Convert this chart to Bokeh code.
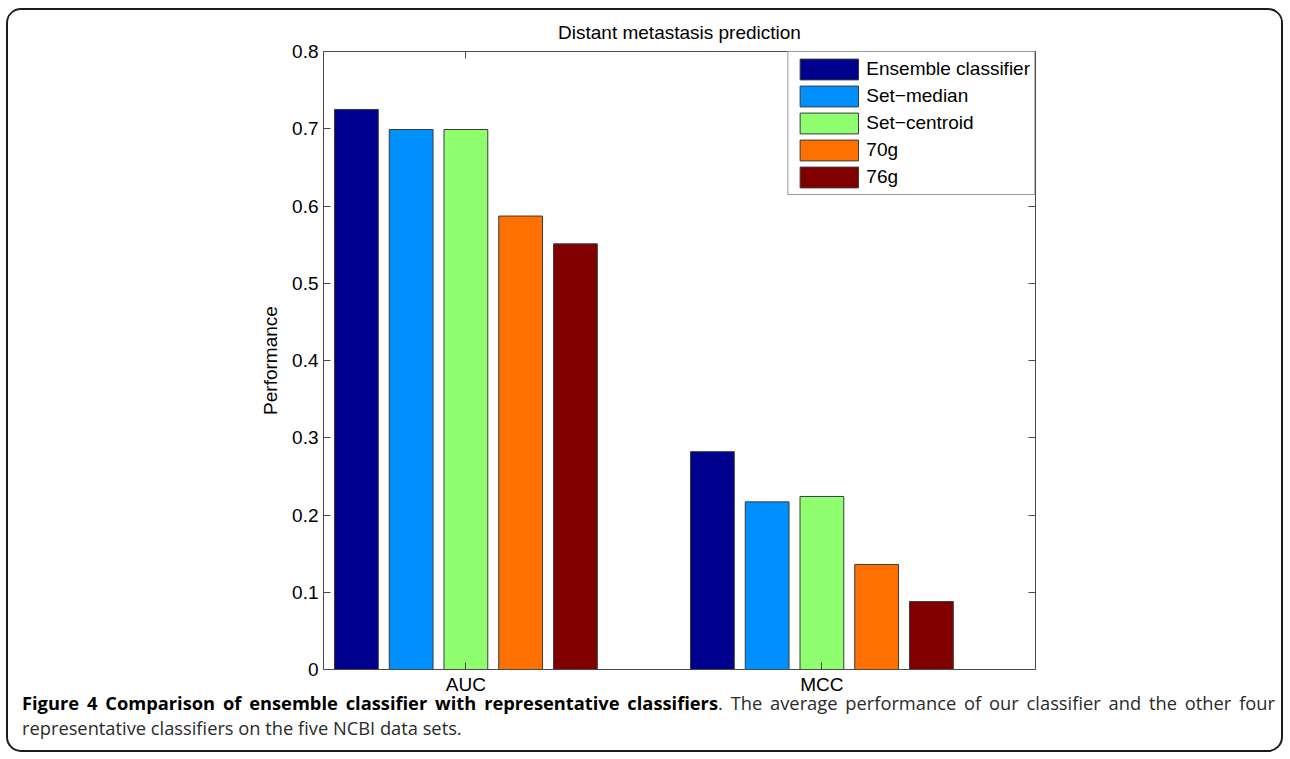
import numpy as np
from bokeh.plotting import figure
from bokeh.models import (ColumnDataSource, Range1d, LinearAxis, FixedTicker, Legend,
                          LegendItem, Div, CustomJSTickFormatter)
from bokeh.layouts import column
from bokeh.embed import file_html
from bokeh.resources import INLINE

# ---------------- data ----------------
metrics = ["AUC", "MCC"]
metric_pos = [1, 2]
classifiers = ["Ensemble classifier", "Set\u2212median", "Set\u2212centroid", "70g", "76g"]
auc = [0.725, 0.699, 0.699, 0.587, 0.551]
mcc = [0.282, 0.217, 0.224, 0.136, 0.088]
colors = ["#00008F", "#008FFF", "#8FFF70", "#FF7000", "#800000"]
y_ticks = [0.0, 0.1, 0.2, 0.3, 0.4, 0.5, 0.6, 0.7, 0.8]
y_tick_labels = ["0", "0.1", "0.2", "0.3", "0.4", "0.5", "0.6", "0.7", "0.8"]
title_text = "Distant metastasis prediction"
y_label = "Performance"
caption_bold = "Figure 4 Comparison of ensemble classifier with representative classifiers"
caption_rest1 = ". The average performance of our classifier and the other four"
caption_rest2 = "representative classifiers on the five NCBI data sets."

FONT = "Liberation Sans"
FS = "19px"
AX = "#4a4a4a"

p = figure(width=1273, height=687, x_range=Range1d(0.6, 2.6), y_range=Range1d(0, 0.8),
           output_backend="svg", toolbar_location=None,
           min_border_left=315, min_border_right=246, min_border_top=41, min_border_bottom=26,
           background_fill_color="white", border_fill_color="white", outline_line_color=None)
p.xgrid.visible = False
p.ygrid.visible = False

p.title.text = title_text
p.title.align = "center"
p.title.text_font = FONT
p.title.text_font_size = FS
p.title.text_font_style = "normal"
p.title.text_color = "black"
p.title.standoff = 17

n = len(classifiers)
step = 0.1538
bar_w = 0.123
offsets = (np.arange(n) - (n - 1) / 2) * step

items = []
for i, name in enumerate(classifiers):
    src = ColumnDataSource(dict(x=[metric_pos[0] + offsets[i], metric_pos[1] + offsets[i]],
                                top=[auc[i], mcc[i]]))
    r = p.vbar(x="x", top="top", bottom=0, width=bar_w, source=src,
               fill_color=colors[i], line_color="#3a3a3a", line_width=1)
    items.append(LegendItem(label=name, renderers=[r]))

legend = Legend(items=items, location="top_right", margin=0, padding=4, spacing=1,
                glyph_width=73, glyph_height=26, label_height=26, label_standoff=1,
                label_text_font=FONT, label_text_font_size=FS, label_text_color="black",
                border_line_color="#333333", border_line_width=1,
                background_fill_color="white", background_fill_alpha=1.0)
p.add_layout(legend)

def style_axis(ax, ticks):
    ax.ticker = FixedTicker(ticks=ticks)
    ax.major_tick_in = 7
    ax.major_tick_out = 0
    ax.minor_tick_in = 0
    ax.minor_tick_out = 0
    ax.axis_line_color = AX
    ax.major_tick_line_color = AX
    ax.axis_line_width = 1
    ax.major_label_text_font = FONT
    ax.major_label_text_font_size = FS
    ax.major_label_text_color = "black"

yl = p.yaxis[0]
style_axis(yl, y_ticks)
yl.major_label_overrides = dict(zip(y_ticks, y_tick_labels))
yl.axis_label = y_label
yl.axis_label_text_font = FONT
yl.axis_label_text_font_size = FS
yl.axis_label_text_font_style = "normal"
yl.axis_label_text_color = "black"
yl.axis_label_standoff = 8
yl.major_label_standoff = 5

xb = p.xaxis[0]
style_axis(xb, metric_pos)
xb.major_label_overrides = dict(zip(metric_pos, metrics))
xb.major_label_standoff = 4

blank = CustomJSTickFormatter(code="return ''")
yr = LinearAxis(formatter=blank)
style_axis(yr, y_ticks)
p.add_layout(yr, "right")
xt = LinearAxis(formatter=blank)
style_axis(xt, metric_pos)
p.add_layout(xt, "above")

cap_html = (
    '<div style="font-family:\'Open Sans\'; font-size:18.3px; line-height:25px; color:#2a2a2a; width:1253px;">'
    '<div style="text-align:justify; text-align-last:justify;">'
    '<span style="font-weight:bold; color:#000;">' + caption_bold + '</span>' + caption_rest1 +
    '</div><div style="text-align:left;">' + caption_rest2 + '</div></div>'
)
cap = Div(text=cap_html, width=1259, height=60, margin=(-7, 0, 0, 14))

layout = column(p, cap, styles={"border": "2px solid #1c1c1c", "border-radius": "15px",
                                "overflow": "hidden", "background": "white",
                                "margin-left": "6px", "margin-top": "8px"})

open("out.html", "w").write(file_html(layout, INLINE))
